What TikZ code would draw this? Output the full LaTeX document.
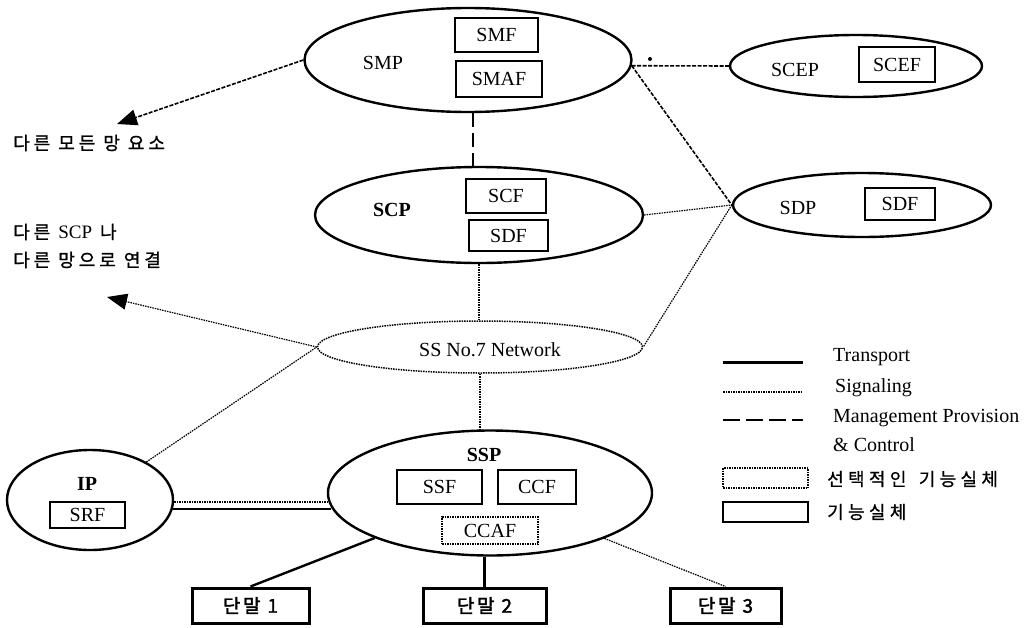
\documentclass[tikz,border=0pt]{standalone}
\usepackage{fontspec}
\setmainfont{Liberation Serif}
\newfontfamily\kr[LetterSpace=22,FakeBold=1.2]{Noto Sans CJK KR}
\newfontfamily\krl[LetterSpace=24,FakeBold=0.6]{Noto Sans CJK KR}
\newfontfamily\krb[LetterSpace=14,FakeBold=2]{Noto Sans CJK KR}
\usetikzlibrary{shapes.geometric,arrows.meta}
\begin{document}
\begin{tikzpicture}[x=1pt,y=-1pt,
  elli/.style={ellipse,draw,line width=2.4pt,inner sep=0pt},
  fbox/.style={rectangle,draw,line width=1.4pt,inner sep=0pt,font=\fontsize{20}{24}\selectfont},
  optbox/.style={rectangle,draw,line width=1.4pt,dash pattern=on 1.5pt off 1pt,inner sep=0pt,font=\fontsize{20}{24}\selectfont},
  term/.style={rectangle,draw,line width=3pt,inner sep=0pt,minimum height=35pt,font=\krb\fontsize{19}{20}\selectfont},
  lbl/.style={font=\fontsize{20}{24}\selectfont,inner sep=0pt},
  blbl/.style={font=\bfseries\fontsize{20}{24}\selectfont,inner sep=0pt},
  lgl/.style={font=\fontsize{20}{24}\selectfont,inner sep=0pt,anchor=west},
  krtext/.style={font=\kr\fontsize{18}{22}\selectfont,inner sep=0pt,anchor=west},
  krleg/.style={font=\krl\fontsize{18}{22}\selectfont,inner sep=0pt,anchor=west},
  signal/.style={line width=1.2pt,dash pattern=on 1.5pt off 1pt},
  fdash/.style={line width=1.6pt,dash pattern=on 4pt off 1.5pt},
  mgmt/.style={line width=1.8pt,dash pattern=on 14pt off 6pt},
  transport/.style={line width=2.4pt},
  bigtip/.style={-{Triangle[length=20pt,width=16pt]}}
]
\useasboundingbox (0,0) rectangle (1031,627);

% SMP
\node[elli,minimum width=327pt,minimum height=104pt] (SMP) at (468,60) {};
\node[lbl] (SMPl) at (383,63) {SMP};
\node[fbox,minimum width=83pt,minimum height=34pt] (SMF) at (496.5,35) {SMF};
\node[fbox,minimum width=86pt,minimum height=36pt] (SMAF) at (499,79) {SMAF};

% SCEP
\node[elli,minimum width=252pt,minimum height=62pt] (SCEP) at (856,66) {};
\node[lbl] (SCEPl) at (795,70) {SCEP};
\node[fbox,minimum width=76pt,minimum height=35pt] (SCEF) at (897,64.5) {SCEF};

% SCP
\node[elli,minimum width=328pt,minimum height=96pt] (SCP) at (479,215) {};
\node[blbl] (SCPl) at (392,210) {SCP};
\node[fbox,minimum width=80pt,minimum height=34pt] (SCF) at (506,196) {SCF};
\node[fbox,minimum width=79pt,minimum height=31pt] (SDFa) at (508.5,235.5) {SDF};

% SDP
\node[elli,minimum width=258pt,minimum height=64pt] (SDP) at (862,205) {};
\node[lbl] (SDPl) at (798,208) {SDP};
\node[fbox,minimum width=70pt,minimum height=32pt] (SDFb) at (900,204) {SDF};

% SS7
\node[ellipse,draw,line width=1.5pt,dash pattern=on 1.5pt off 1pt,inner sep=0pt,minimum width=325pt,minimum height=52pt] (SS7) at (480,347) {};
\node[lbl] (SS7l) at (490,350) {SS No.7 Network};

% SSP
\node[elli,minimum width=324pt,minimum height=125pt] (SSP) at (490,493) {};
\node[blbl] (SSPl) at (484,455) {SSP};
\node[fbox,minimum width=85pt,minimum height=34pt] (SSF) at (439.5,487) {SSF};
\node[fbox,minimum width=78pt,minimum height=34pt] (CCF) at (537,487) {CCF};
\node[optbox,minimum width=96pt,minimum height=27pt] (CCAF) at (490,530.5) {CCAF};

% IP
\node[elli,minimum width=166pt,minimum height=100pt] (IP) at (90,500) {};
\node[blbl] (IPl) at (87,484) {IP};
\node[fbox,minimum width=75pt,minimum height=26pt] (SRF) at (87.5,515) {SRF};

% terminals
\node[term,minimum width=117pt] (T1) at (250.5,605.5) {단말 1};
\node[term,minimum width=123pt] (T2) at (484.5,605.5) {단말 2};
\node[term,minimum width=111pt] (T3) at (725.5,605.5) {단말 3};

% left texts
\coordinate (a1) at (117,124);
\coordinate (a2) at (107,297);
\node[krtext] (txt1) at (13,143) {다른 모든 망 요소};
\node[krtext] (txt2) at (13,232) {다른 {\rmfamily\fontsize{19}{22}\selectfont SCP} 나};
\node[krtext] (txt3) at (13,260) {다른 망으로 연결};

% connectors
\draw[fdash,bigtip] (SMP.west) -- (a1);
\draw[mgmt] ([xshift=5pt]SMP.south) -- ([xshift=5pt]SMP.south |- SCP.north);
\draw[fdash] (SMP.-2) -- (SCEP.west);
\fill (650,59) circle (2pt);
\draw[fdash] (SMP.-2) -- (SDP.west);
\draw[signal] (SCP.east) -- (SDP.west);
\draw[signal] (SDP.west) -- (SS7.east);
\draw[signal] (SCP.south) -- (SCP.south |- SS7.north);
\draw[signal,bigtip] (SS7.west) -- (a2);
\draw[signal] (IP) -- (SS7.west);
\draw[signal] (SS7.south) -- (SS7.south |- SSP.north);
\draw[signal] ([yshift=-2pt]IP.east) -- ([yshift=-2pt]IP.east -| SSP.west);
\draw[transport] ([yshift=-9pt,xshift=-1pt]IP.east) -- ([yshift=-9pt,xshift=4pt]IP.east -| SSP.west);
\draw[transport] (SSP) -- (T1.north);
\draw[transport] (SSP.south -| T2.north) -- (T2.north);
\draw[signal] (SSP) -- (T3.north);

% legend
\coordinate (L1a) at (723,362); \coordinate (L1b) at (803,362);
\coordinate (L2a) at (723,392); \coordinate (L2b) at (803,392);
\coordinate (L3a) at (723,420); \coordinate (L3b) at (803,420);
\draw[line width=3pt] (L1a) -- (L1b);
\draw[signal] (L2a) -- (L2b);
\draw[mgmt,dash pattern=on 17pt off 6pt] (L3a) -- (L3b);
\node[lgl] (Lt1) at (833,357) {Transport};
\node[lgl] (Lt2) at (835,388) {Signaling};
\node[lgl] (Lt3) at (833,418) {Management Provision};
\node[lgl] (Lt4) at (833,445) {\& Control};
\node[optbox,minimum width=85pt,minimum height=20pt] (Lopt) at (765.5,478) {};
\node[fbox,minimum width=85pt,minimum height=20pt] (Lfb) at (765.5,512) {};
\node[krleg] (Lt5) at (827,479) {선택적인 \hspace{4pt}기능실체};
\node[krleg] (Lt6) at (827,512) {기능실체};
\end{tikzpicture}
\end{document}
